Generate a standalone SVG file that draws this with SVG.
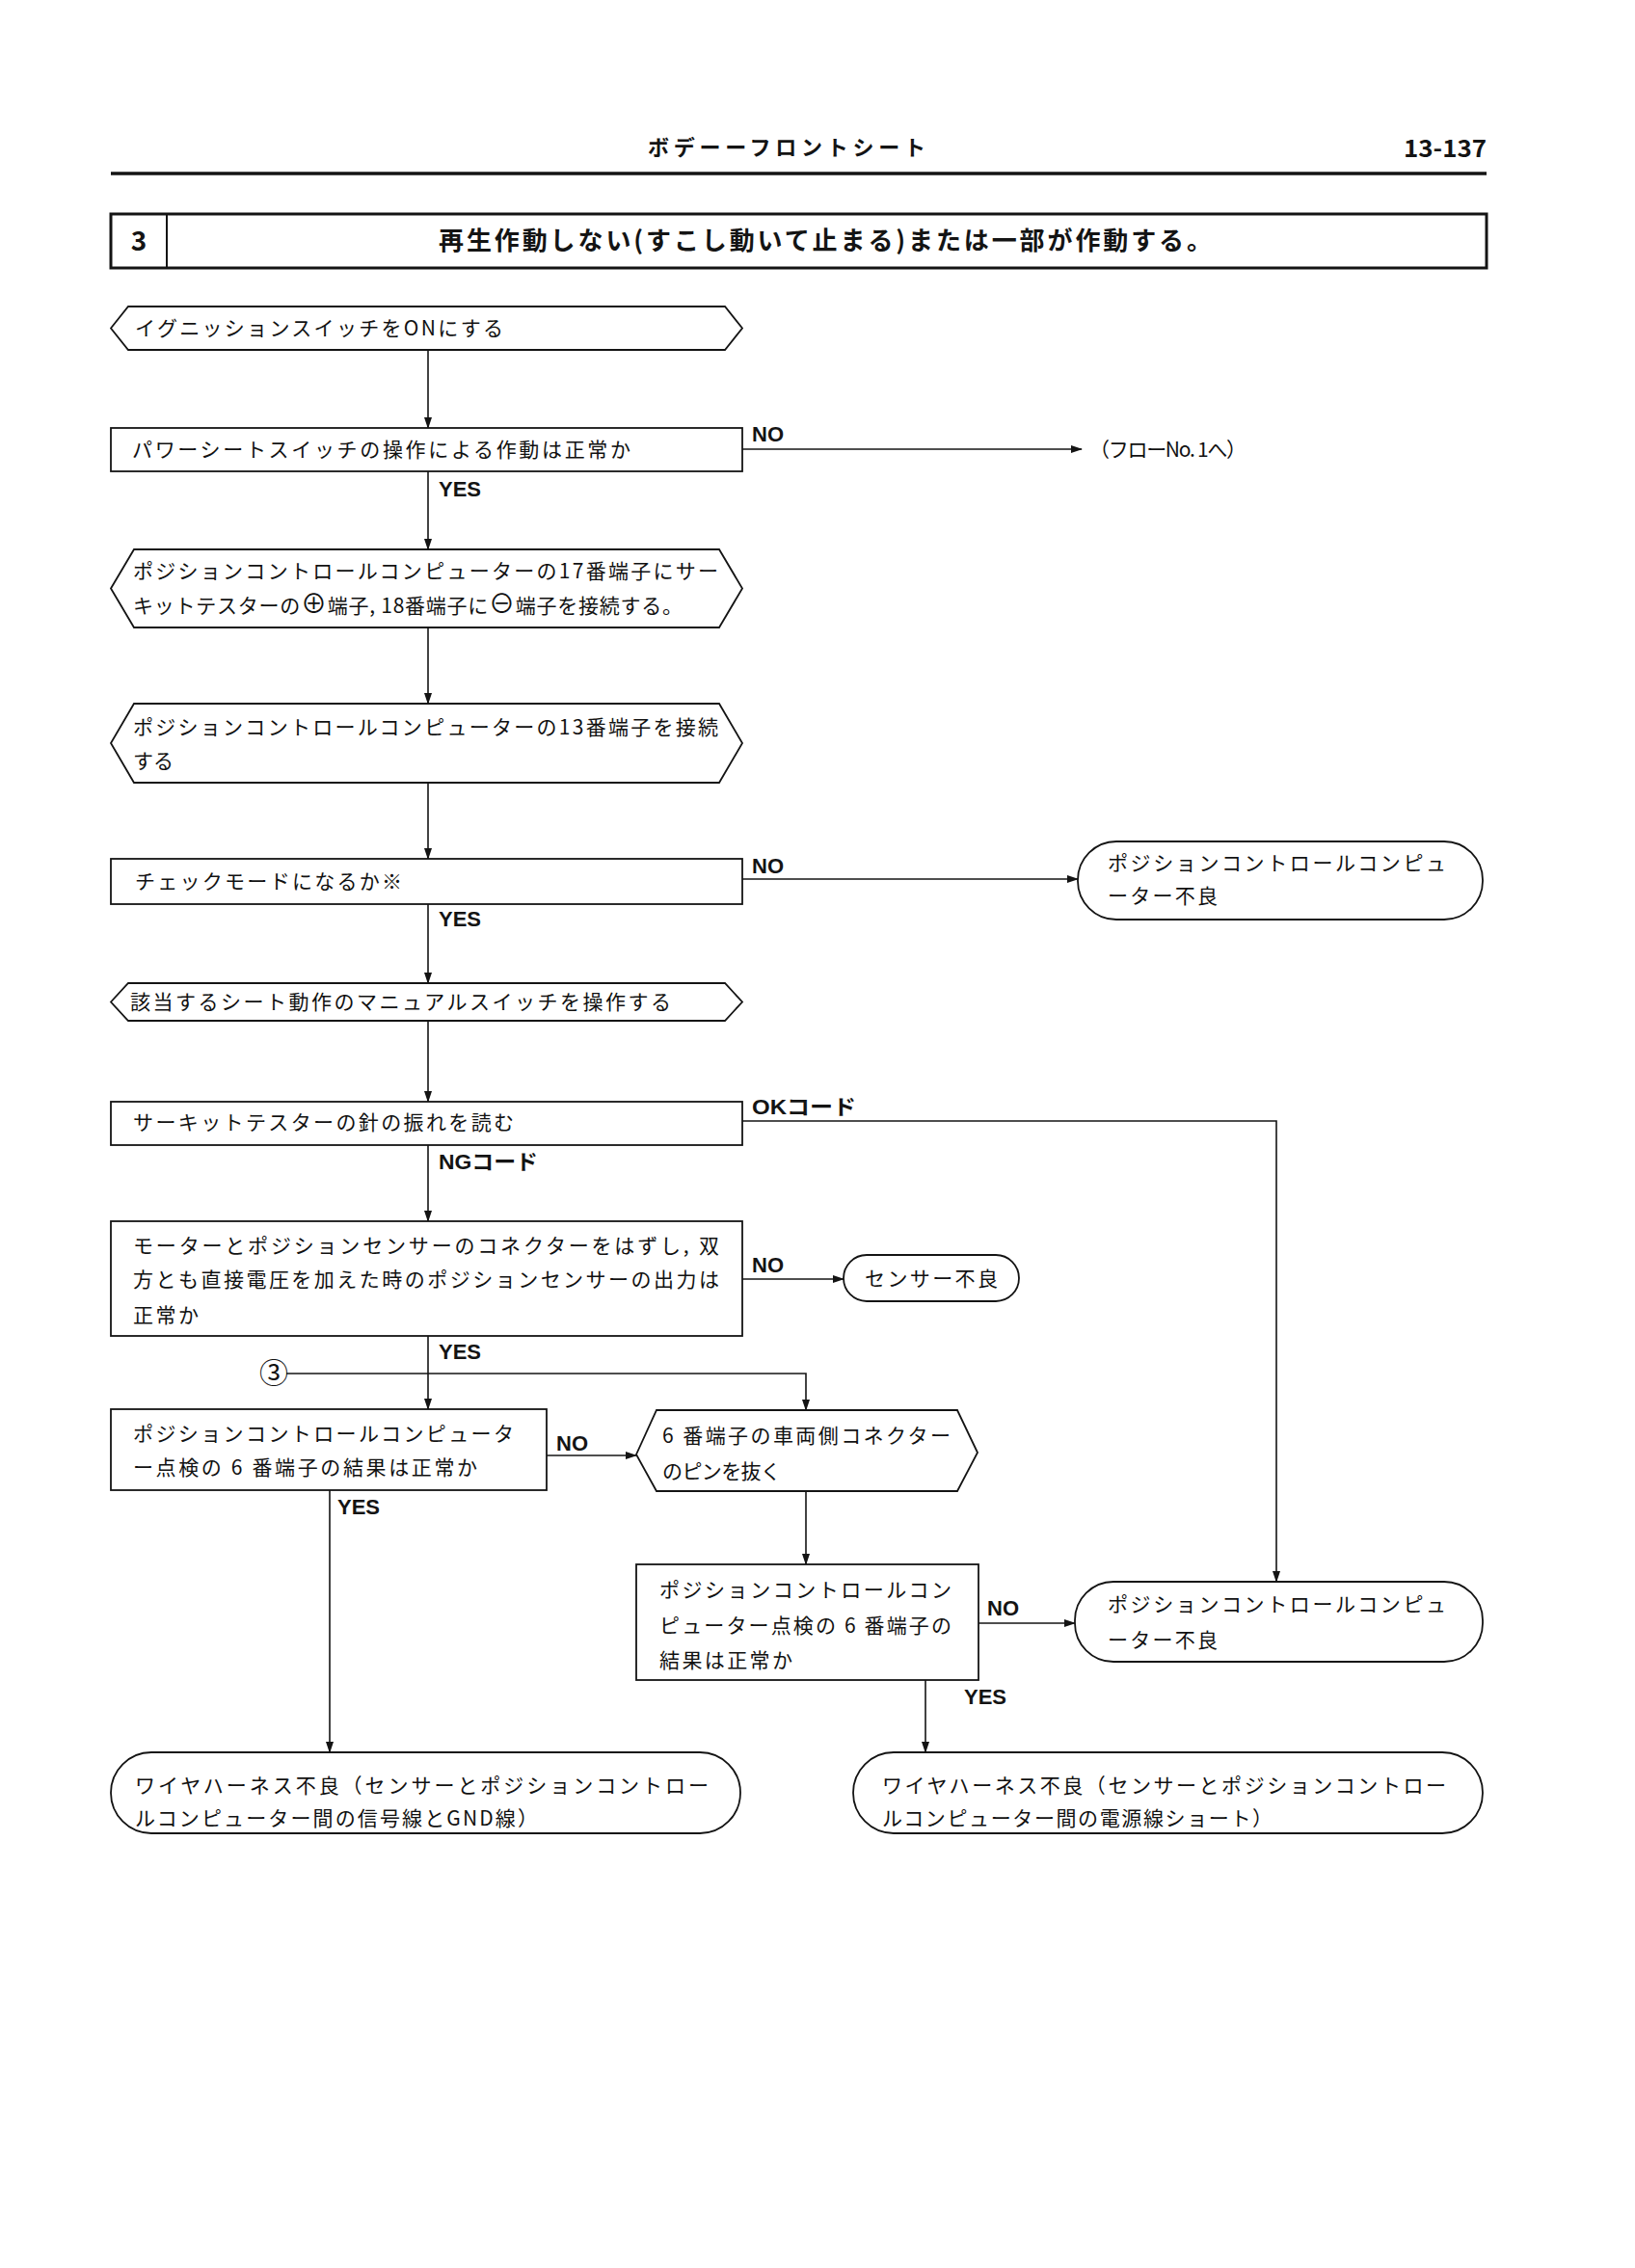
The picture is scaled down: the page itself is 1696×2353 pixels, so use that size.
<svg xmlns="http://www.w3.org/2000/svg" width="1696" height="2353" viewBox="0 0 1696 2353">
<style>
.t{font-family:"Noto Sans CJK JP","Noto Sans",sans-serif;font-size:21px;fill:#111}
.b{fill:#fff;stroke:#141414;stroke-width:1.8}
.c{fill:none;stroke:#141414;stroke-width:1.6}
.l{font-family:"Liberation Sans","Noto Sans CJK JP",sans-serif;font-weight:bold;font-size:22px;fill:#141414}
.h{font-family:"Noto Sans CJK JP","Liberation Sans",sans-serif;font-weight:bold;fill:#141414}
.big{font-size:27px}
.circ{font-size:30px}
</style>
<defs>
<marker id="a" markerWidth="12" markerHeight="8" refX="11" refY="4" orient="auto" markerUnits="userSpaceOnUse"><path d="M0,0 L12,4 L0,8 z" fill="#141414"/></marker>
</defs>
<rect width="1696" height="2353" fill="#fff"/>

<g id="header">
<text class="h" x="816" y="161" font-size="22" text-anchor="middle" textLength="288" lengthAdjust="spacing">ボデーーフロントシート</text>
<text class="h" x="1542" y="163" font-size="25" text-anchor="end" textLength="86" lengthAdjust="spacingAndGlyphs">13-137</text>
<line x1="115" y1="180" x2="1542" y2="180" stroke="#141414" stroke-width="3.5"/>
</g>

<g id="title">
<rect x="115" y="222" width="1427" height="56" fill="none" stroke="#141414" stroke-width="3"/>
<line x1="173" y1="222" x2="173" y2="278" stroke="#141414" stroke-width="2"/>
<text class="h" x="144" y="260" font-size="28" text-anchor="middle">3</text>
<text class="h" x="455" y="259" font-size="26" textLength="802" lengthAdjust="spacing">再生作動しない(すこし動いて止まる)または一部が作動する。</text>
</g>

<g id="connectors">
<path class="c" d="M444,363 V444" marker-end="url(#a)"/>
<path class="c" d="M770,466 H1122" marker-end="url(#a)"/>
<path class="c" d="M444,489 V570" marker-end="url(#a)"/>
<path class="c" d="M444,651 V730" marker-end="url(#a)"/>
<path class="c" d="M444,812 V891" marker-end="url(#a)"/>
<path class="c" d="M770,912 H1118" marker-end="url(#a)"/>
<path class="c" d="M444,938 V1020" marker-end="url(#a)"/>
<path class="c" d="M444,1059 V1143" marker-end="url(#a)"/>
<path class="c" d="M770,1163 H1324 V1641" marker-end="url(#a)"/>
<path class="c" d="M444,1188 V1267" marker-end="url(#a)"/>
<path class="c" d="M770,1327 H875" marker-end="url(#a)"/>
<path class="c" d="M444,1386 V1462" marker-end="url(#a)"/>
<path class="c" d="M297,1425 H836 V1463" marker-end="url(#a)"/>
<path class="c" d="M567,1510 H660" marker-end="url(#a)"/>
<path class="c" d="M836,1547 V1623" marker-end="url(#a)"/>
<path class="c" d="M342,1546 V1818" marker-end="url(#a)"/>
<path class="c" d="M1015,1684 H1115" marker-end="url(#a)"/>
<path class="c" d="M960,1743 V1818" marker-end="url(#a)"/>
<text class="l" x="780" y="458">NO</text>
<text class="l" x="455" y="515">YES</text>
<text class="l" x="780" y="906">NO</text>
<text class="l" x="455" y="961">YES</text>
<text class="l" x="780" y="1156" textLength="108" lengthAdjust="spacingAndGlyphs">OKコード</text>
<text class="l" x="455" y="1213" textLength="103" lengthAdjust="spacingAndGlyphs">NGコード</text>
<text class="l" x="780" y="1320">NO</text>
<text class="l" x="455" y="1410">YES</text>
<text class="l" x="577" y="1505">NO</text>
<text class="l" x="350" y="1571">YES</text>
<text class="l" x="1024" y="1676">NO</text>
<text class="l" x="1000" y="1768">YES</text>
<text class="t" x="1130" y="474" textLength="163" lengthAdjust="spacing">（フローNo. 1へ）</text>
<text class="t circ" x="284" y="1435" text-anchor="middle">③</text>
</g>

<g id="n1">
<polygon class="b" points="115,340.5 133,318 752,318 770,340.5 752,363 133,363"/>
<text class="t" x="140" y="348" textLength="382" lengthAdjust="spacing">イグニッションスイッチをONにする</text>
</g>

<g id="n2">
<rect class="b" x="115" y="444" width="655" height="45"/>
<text class="t" x="137" y="474" textLength="517" lengthAdjust="spacing">パワーシートスイッチの操作による作動は正常か</text>
</g>

<g id="n3">
<polygon class="b" points="115,610.5 139,570 746,570 770,610.5 746,651 139,651"/>
<text class="t" x="138" y="600" textLength="607" lengthAdjust="spacing">ポジションコントロールコンピューターの17番端子にサー</text>
<text class="t" x="138" y="636" textLength="570" lengthAdjust="spacing">キットテスターの<tspan class="big">⊕</tspan>端子, 18番端子に<tspan class="big">⊖</tspan>端子を接続する。</text>
</g>

<g id="n4">
<polygon class="b" points="115,771 139,730 746,730 770,771 746,812 139,812"/>
<text class="t" x="138" y="762" textLength="607" lengthAdjust="spacing">ポジションコントロールコンピューターの13番端子を接続</text>
<text class="t" x="138" y="797" textLength="42" lengthAdjust="spacing">する</text>
</g>

<g id="n5">
<rect class="b" x="115" y="891" width="655" height="47"/>
<text class="t" x="140" y="922" textLength="277" lengthAdjust="spacing">チェックモードになるか※</text>
</g>

<g id="t1">
<rect class="b" x="1118" y="873" width="420" height="81" rx="40" ry="40"/>
<text class="t" x="1149" y="903" textLength="351" lengthAdjust="spacing">ポジションコントロールコンピュ</text>
<text class="t" x="1149" y="937" textLength="114" lengthAdjust="spacing">ーター不良</text>
</g>

<g id="n6">
<polygon class="b" points="115,1039.5 133,1020 752,1020 770,1039.5 752,1059 133,1059"/>
<text class="t" x="135" y="1047" textLength="561" lengthAdjust="spacing">該当するシート動作のマニュアルスイッチを操作する</text>
</g>

<g id="n7">
<rect class="b" x="115" y="1143" width="655" height="45"/>
<text class="t" x="138" y="1172" textLength="395" lengthAdjust="spacing">サーキットテスターの針の振れを読む</text>
</g>

<g id="n8">
<rect class="b" x="115" y="1267" width="655" height="119"/>
<text class="t" x="138" y="1300" textLength="608" lengthAdjust="spacing">モーターとポジションセンサーのコネクターをはずし, 双</text>
<text class="t" x="138" y="1335" textLength="608" lengthAdjust="spacing">方とも直接電圧を加えた時のポジションセンサーの出力は</text>
<text class="t" x="138" y="1372" textLength="68" lengthAdjust="spacing">正常か</text>
</g>

<g id="t2">
<rect class="b" x="875" y="1302" width="182" height="48" rx="24" ry="24"/>
<text class="t" x="897" y="1334" textLength="138" lengthAdjust="spacing">センサー不良</text>
</g>

<g id="n9">
<rect class="b" x="115" y="1462" width="452" height="84"/>
<text class="t" x="138" y="1495" textLength="395" lengthAdjust="spacing">ポジションコントロールコンピュータ</text>
<text class="t" x="138" y="1530" textLength="357" lengthAdjust="spacing">ー点検の 6 番端子の結果は正常か</text>
</g>

<g id="n10">
<polygon class="b" points="660,1509 681,1463 993,1463 1014,1507 993,1547 681,1547"/>
<text class="t" x="687" y="1497" textLength="299" lengthAdjust="spacing">6 番端子の車両側コネクター</text>
<text class="t" x="687" y="1534" textLength="123" lengthAdjust="spacing">のピンを抜く</text>
</g>

<g id="n11">
<rect class="b" x="660" y="1623" width="355" height="120"/>
<text class="t" x="684" y="1657" textLength="303" lengthAdjust="spacing">ポジションコントロールコン</text>
<text class="t" x="684" y="1694" textLength="303" lengthAdjust="spacing">ピューター点検の 6 番端子の</text>
<text class="t" x="684" y="1730" textLength="138" lengthAdjust="spacing">結果は正常か</text>
</g>

<g id="t3">
<rect class="b" x="1115" y="1641" width="423" height="83" rx="40" ry="40"/>
<text class="t" x="1149" y="1672" textLength="351" lengthAdjust="spacing">ポジションコントロールコンピュ</text>
<text class="t" x="1149" y="1709" textLength="114" lengthAdjust="spacing">ーター不良</text>
</g>

<g id="t4">
<rect class="b" x="115" y="1818" width="653" height="84" rx="42" ry="42"/>
<text class="t" x="140" y="1860" textLength="595" lengthAdjust="spacing">ワイヤハーネス不良（センサーとポジションコントロー</text>
<text class="t" x="140" y="1894" textLength="418" lengthAdjust="spacing">ルコンピューター間の信号線とGND線）</text>
</g>

<g id="t5">
<rect class="b" x="885" y="1818" width="653" height="84" rx="42" ry="42"/>
<text class="t" x="915" y="1860" textLength="585" lengthAdjust="spacing">ワイヤハーネス不良（センサーとポジションコントロー</text>
<text class="t" x="915" y="1894" textLength="405" lengthAdjust="spacing">ルコンピューター間の電源線ショート）</text>
</g>
</svg>
